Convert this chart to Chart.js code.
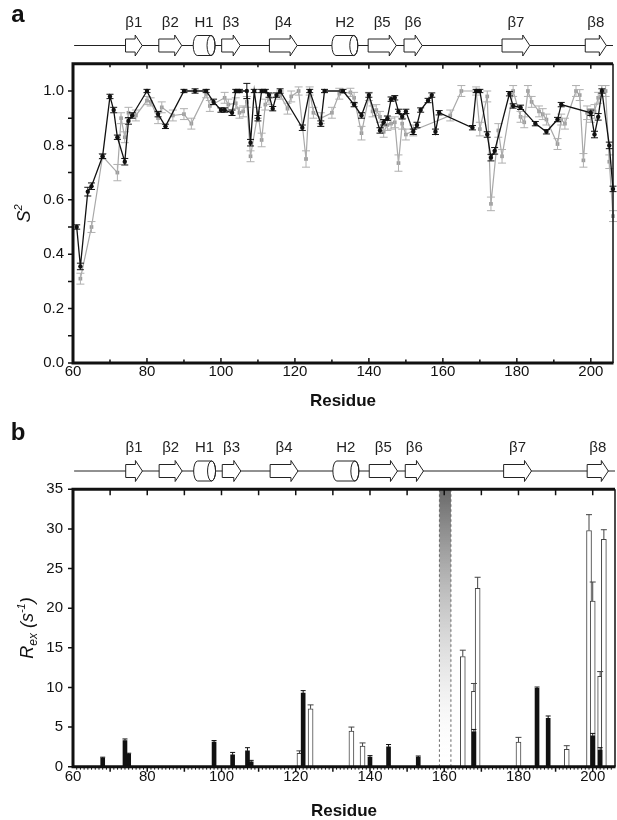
<!DOCTYPE html>
<html>
<head>
<meta charset="utf-8">
<script src="https://cdn.jsdelivr.net/npm/chart.js@4.4.1/dist/chart.umd.min.js"></script>
<style>
html, body { margin: 0; padding: 0; background: #fff; }
#wrap { position: relative; width: 617px; height: 820px; }
canvas { position: absolute; left: 0; }
</style>
</head>
<body>
<div id="wrap">
  <canvas id="chartA" width="617" height="420" style="top:0;width:617px;height:420px"></canvas>
  <canvas id="chartB" width="617" height="400" style="top:420px;width:617px;height:400px"></canvas>
</div>
<script>
// axis ticks
const xTicks = [60, 80, 100, 120, 140, 160, 180, 200];
const s2Ticks = [0, 0.2, 0.4, 0.6, 0.8, 1.0];
const rexTicks = [0, 5, 10, 15, 20, 25, 30, 35];

// secondary structure (residue ranges)
const ssLabels = ['β1', 'β2', 'H1', 'β3', 'β4', 'H2', 'β5', 'β6', 'β7', 'β8'];
const ssTypes = ['strand', 'strand', 'helix', 'strand', 'strand', 'helix', 'strand', 'strand', 'strand', 'strand'];
const ssStart = [74.2, 83.2, 92.5, 100.2, 113.1, 130.0, 139.8, 149.5, 176.0, 198.5];
const ssEnd = [78.7, 89.4, 98.4, 105.2, 120.6, 137.0, 147.4, 154.4, 183.5, 204.2];
const ssSpan = [60.3, 206];

// panel a: S2 order parameters
const blackRes = [61, 62, 64, 65, 68, 70, 71, 72, 74, 75, 76, 80, 83, 85, 90, 93, 96, 98, 100, 101,
  103, 104, 105, 107, 108, 109, 110, 111, 112, 113, 114, 115, 116, 122, 124, 127, 128, 133, 136, 138,
  140, 143, 144, 145, 146, 147, 148, 149, 150, 152, 153, 154, 156, 157, 158, 159, 168, 169, 170, 172,
  173, 174, 178, 179, 181, 185, 188, 191, 192, 200, 201, 202, 203, 205, 206];
const blackS2 = [0.50, 0.355, 0.63, 0.65, 0.76, 0.98, 0.93, 0.83, 0.74, 0.89, 0.91, 1.0, 0.915, 0.87, 1.0, 1.0, 1.0, 0.96, 0.93, 0.93,
  0.92, 1.0, 1.0, 1.0, 0.81, 1.0, 0.90, 1.0, 1.0, 0.985, 0.935, 0.985, 1.0, 0.865, 1.0, 0.88, 1.0, 1.0, 0.95, 0.91,
  0.985, 0.855, 0.885, 0.90, 0.97, 0.975, 0.925, 0.905, 0.925, 0.85, 0.875, 0.93, 0.965, 0.985, 0.85, 0.92, 0.865, 1.0, 1.0, 0.84,
  0.755, 0.78, 0.99, 0.945, 0.94, 0.88, 0.85, 0.895, 0.95, 0.92, 0.84, 0.905, 1.0, 0.80, 0.64];
const blackErr = [0.008, 0.012, 0.016, 0.012, 0.008, 0.008, 0.01, 0.008, 0.012, 0.012, 0.01, 0.006, 0.01, 0.008, 0.006, 0.008, 0.006, 0.01, 0.008, 0.008,
  0.01, 0.006, 0.006, 0.028, 0.012, 0.006, 0.01, 0.006, 0.006, 0.008, 0.008, 0.008, 0.008, 0.01, 0.006, 0.01, 0.006, 0.006, 0.008, 0.01,
  0.008, 0.01, 0.01, 0.008, 0.008, 0.008, 0.008, 0.008, 0.008, 0.01, 0.01, 0.008, 0.008, 0.008, 0.01, 0.008, 0.008, 0.006, 0.006, 0.01,
  0.012, 0.012, 0.008, 0.008, 0.008, 0.008, 0.008, 0.008, 0.008, 0.01, 0.012, 0.012, 0.008, 0.012, 0.01];

const grayRes = [62, 65, 68, 72, 73, 74, 75, 77, 80, 81, 83, 84, 87, 90, 92, 96, 97, 101, 102, 104,
  105, 106, 107, 108, 110, 111, 112, 113, 116, 118, 119, 121, 123, 124, 125, 127, 130, 132, 135, 136,
  138, 140, 141, 142, 143, 144, 145, 146, 147, 148, 149, 150, 152, 162, 165, 169, 170, 172, 173, 175,
  176, 179, 181, 182, 183, 184, 186, 187, 188, 191, 192, 193, 196, 197, 198, 199, 200, 201, 202, 203,
  204, 205, 206];
const grayS2 = [0.31, 0.50, 0.76, 0.70, 0.90, 0.83, 0.92, 0.91, 0.965, 0.96, 0.90, 0.94, 0.91, 0.915, 0.88, 0.99, 0.945, 0.975, 0.95, 0.955,
  0.92, 0.925, 0.96, 0.76, 0.92, 0.82, 0.95, 0.97, 0.985, 0.935, 0.98, 1.0, 0.75, 1.0, 0.92, 0.90, 0.92, 0.99, 0.995, 0.975,
  0.845, 0.98, 0.925, 0.93, 0.905, 0.85, 0.875, 0.88, 0.885, 0.735, 0.88, 0.84, 0.855, 0.91, 1.0, 1.0, 0.86, 0.98, 0.585, 0.855,
  0.76, 1.0, 0.905, 0.885, 1.0, 0.96, 0.925, 0.915, 0.895, 0.805, 0.895, 0.88, 1.0, 0.985, 0.745, 0.92, 0.91, 0.925, 0.975, 1.0,
  1.0, 0.74, 0.54];
const grayErr = [0.02, 0.02, 0.01, 0.03, 0.02, 0.02, 0.02, 0.02, 0.015, 0.015, 0.02, 0.02, 0.02, 0.02, 0.02, 0.015, 0.02, 0.02, 0.02, 0.02,
  0.02, 0.02, 0.02, 0.02, 0.02, 0.025, 0.02, 0.02, 0.015, 0.02, 0.02, 0.015, 0.03, 0.015, 0.02, 0.02, 0.02, 0.02, 0.015, 0.02,
  0.025, 0.015, 0.02, 0.02, 0.02, 0.02, 0.02, 0.02, 0.02, 0.03, 0.02, 0.02, 0.02, 0.02, 0.02, 0.015, 0.025, 0.02, 0.025, 0.025,
  0.025, 0.02, 0.02, 0.02, 0.02, 0.02, 0.02, 0.02, 0.02, 0.02, 0.02, 0.02, 0.02, 0.02, 0.025, 0.025, 0.025, 0.025, 0.02, 0.02,
  0.02, 0.025, 0.02];

// panel b: Rex
const rexBlackRes = [68, 74, 75, 98, 103, 107, 108, 122, 140, 145, 153, 168, 185, 188, 200, 202];
const rexBlack = [1.1, 3.3, 1.6, 3.1, 1.5, 2.0, 0.6, 9.3, 1.2, 2.5, 1.2, 4.4, 9.9, 6.1, 3.9, 2.1];
const rexBlackErr = [0.1, 0.2, 0.1, 0.2, 0.3, 0.4, 0.2, 0.3, 0.2, 0.3, 0.15, 0.3, 0.15, 0.3, 0.3, 0.3];
const rexOpenRes = [121, 124, 135, 138, 165, 168, 169, 180, 193, 199, 200, 202, 203];
const rexOpen = [1.7, 7.3, 4.5, 2.6, 13.9, 9.5, 22.5, 3.1, 2.2, 29.8, 20.9, 11.4, 28.7];
const rexOpenErr = [0.3, 0.5, 0.5, 0.4, 0.8, 1.0, 1.4, 0.6, 0.45, 2.0, 2.4, 0.6, 1.2];
const bandRes = [158.7, 161.8];

const FONT = '"Liberation Sans", Arial, Helvetica, sans-serif';
const pts = (xs, ys) => xs.map((x, i) => ({ x: x, y: ys[i] }));

const errorBars = {
  id: 'errorBars',
  afterDatasetDraw(chart, args) {
    const ds = chart.data.datasets[args.index];
    if (!ds.errors) return;
    const ctx = chart.ctx, y = chart.scales.y;
    const cap = ds.capHalf || 3.5;
    ctx.save();
    ctx.strokeStyle = ds.errColor;
    ctx.lineWidth = 1;
    args.meta.data.forEach((el, i) => {
      const v = ds.data[i].y, e = ds.errors[i];
      const top = y.getPixelForValue(v + e);
      const bot = ds.upOnly ? y.getPixelForValue(v) : y.getPixelForValue(v - e);
      ctx.beginPath();
      ctx.moveTo(el.x, top); ctx.lineTo(el.x, bot);
      ctx.moveTo(el.x - cap, top); ctx.lineTo(el.x + cap, top);
      if (!ds.upOnly) { ctx.moveTo(el.x - cap, bot); ctx.lineTo(el.x + cap, bot); }
      ctx.stroke();
    });
    ctx.restore();
  }
};

function drawSS(chart, lineY, labelY) {
  const ctx = chart.ctx, x = chart.scales.x;
  ctx.save();
  ctx.strokeStyle = '#222';
  ctx.lineWidth = 1;
  ctx.beginPath();
  ctx.moveTo(x.getPixelForValue(ssSpan[0]), lineY);
  ctx.lineTo(x.getPixelForValue(ssSpan[1]), lineY);
  ctx.stroke();
  ssLabels.forEach((lab, i) => {
    const x1 = x.getPixelForValue(ssStart[i]), x2 = x.getPixelForValue(ssEnd[i]);
    ctx.fillStyle = '#fff';
    ctx.beginPath();
    if (ssTypes[i] === 'strand') {
      const h = 6.5, H = 10.5, hd = 7;
      ctx.moveTo(x1, lineY - h);
      ctx.lineTo(x2 - hd, lineY - h);
      ctx.lineTo(x2 - hd, lineY - H);
      ctx.lineTo(x2, lineY);
      ctx.lineTo(x2 - hd, lineY + H);
      ctx.lineTo(x2 - hd, lineY + h);
      ctx.lineTo(x1, lineY + h);
      ctx.closePath();
      ctx.fill(); ctx.stroke();
    } else {
      const r = 4, h = 10;
      ctx.ellipse(x1 + r, lineY, r, h, 0, Math.PI / 2, Math.PI * 1.5);
      ctx.lineTo(x2 - r, lineY - h);
      ctx.ellipse(x2 - r, lineY, r, h, 0, -Math.PI / 2, Math.PI / 2);
      ctx.closePath();
      ctx.fill(); ctx.stroke();
      ctx.beginPath();
      ctx.ellipse(x2 - r, lineY, r, h, 0, 0, Math.PI * 2);
      ctx.stroke();
    }
    ctx.fillStyle = '#222';
    ctx.font = '15px ' + FONT;
    ctx.textAlign = 'center';
    ctx.textBaseline = 'middle';
    ctx.fillText(lab, (x1 + x2) / 2, labelY);
  });
  ctx.restore();
}

function drawFrame(ctx, a) {
  ctx.save();
  ctx.strokeStyle = '#111';
  ctx.lineWidth = 1.5;
  ctx.beginPath();
  ctx.moveTo(a.right, a.top); ctx.lineTo(a.right, a.bottom);
  ctx.stroke();
  ctx.lineWidth = 3;
  ctx.beginPath();
  ctx.moveTo(a.right, a.top); ctx.lineTo(a.left, a.top);
  ctx.lineTo(a.left, a.bottom); ctx.lineTo(a.right + 0.5, a.bottom);
  ctx.stroke();
  ctx.restore();
}

function tick(ctx, x1, y1, x2, y2) {
  ctx.moveTo(x1, y1); ctx.lineTo(x2, y2);
}

function drawRich(ctx, parts, cx, cy) {
  // parts: [text, size, dy]
  let total = 0;
  parts.forEach(p => { ctx.font = 'italic ' + p[1] + 'px ' + FONT; total += ctx.measureText(p[0]).width; });
  let xx = cx - total / 2;
  parts.forEach(p => {
    ctx.font = 'italic ' + p[1] + 'px ' + FONT;
    ctx.fillText(p[0], xx, cy + p[2]);
    xx += ctx.measureText(p[0]).width;
  });
}

function drawLabels(chart, letter, letterY, yTitle, titleX, residueY) {
  const ctx = chart.ctx, a = chart.chartArea;
  ctx.save();
  ctx.fillStyle = '#111';
  ctx.textBaseline = 'middle';
  ctx.textAlign = 'center';
  ctx.font = 'bold 24px ' + FONT;
  ctx.fillText(letter, 18, letterY);
  ctx.font = 'bold 17px ' + FONT;
  ctx.fillText('Residue', (a.left + a.right) / 2, residueY);
  ctx.translate(titleX, (a.top + a.bottom) / 2);
  ctx.rotate(-Math.PI / 2);
  ctx.textAlign = 'left';
  ctx.textBaseline = 'alphabetic';
  drawRich(ctx, yTitle, 0, 6);
  ctx.restore();
}

const panelA = {
  id: 'panelA',
  afterDraw(chart) {
    const ctx = chart.ctx, a = chart.chartArea, x = chart.scales.x, y = chart.scales.y;
    drawFrame(ctx, a);
    ctx.save();
    ctx.strokeStyle = '#111';
    ctx.lineWidth = 1.5;
    ctx.beginPath();
    for (let v = 70; v <= 200; v += 10) {
      const px = x.getPixelForValue(v), len = v % 20 === 0 ? 5 : 3.5;
      tick(ctx, px, a.bottom, px, a.bottom - len);
      tick(ctx, px, a.top, px, a.top + len);
    }
    for (let k = 0; k <= 10; k++) {
      const py = y.getPixelForValue(k / 10);
      tick(ctx, a.left, py, a.left - 5, py);
    }
    ctx.stroke();
    ctx.restore();
    drawSS(chart, a.top - 18.3, a.top - 41);
    drawLabels(chart, 'a', 15, [['S', 18, 0], ['2', 11, -8]], 24, 401);
  }
};

const panelB = {
  id: 'panelB',
  beforeDatasetsDraw(chart) {
    const ctx = chart.ctx, a = chart.chartArea, x = chart.scales.x;
    const x1 = x.getPixelForValue(bandRes[0]), x2 = x.getPixelForValue(bandRes[1]);
    const g = ctx.createLinearGradient(0, a.top, 0, a.bottom);
    g.addColorStop(0, 'rgba(105,105,105,1)');
    g.addColorStop(0.35, 'rgba(170,170,170,0.8)');
    g.addColorStop(0.75, 'rgba(230,230,230,0.5)');
    g.addColorStop(1, 'rgba(255,255,255,0)');
    ctx.save();
    ctx.fillStyle = g;
    ctx.fillRect(x1, a.top, x2 - x1, a.bottom - a.top);
    ctx.strokeStyle = '#666';
    ctx.lineWidth = 1;
    ctx.setLineDash([2.5, 2.5]);
    ctx.beginPath();
    tick(ctx, x1, a.top, x1, a.bottom);
    tick(ctx, x2, a.top, x2, a.bottom);
    ctx.stroke();
    ctx.restore();
  },
  afterDraw(chart) {
    const ctx = chart.ctx, a = chart.chartArea, x = chart.scales.x, y = chart.scales.y;
    drawFrame(ctx, a);
    ctx.save();
    ctx.strokeStyle = '#111';
    ctx.lineWidth = 1;
    ctx.beginPath();
    for (let v = 61; v <= 205; v++) {
      if (v % 10 === 0) continue;
      const px = x.getPixelForValue(v);
      tick(ctx, px, a.bottom, px, a.bottom + 3);
    }
    ctx.stroke();
    ctx.lineWidth = 1.5;
    ctx.beginPath();
    for (let v = 70; v <= 200; v += 10) {
      const px = x.getPixelForValue(v);
      tick(ctx, px, a.bottom, px, a.bottom + 5);
      tick(ctx, px, a.top, px, a.top + 6);
    }
    for (let v = 0; v <= 35; v += 5) {
      const py = y.getPixelForValue(v);
      tick(ctx, a.left, py, a.left - 5, py);
    }
    ctx.stroke();
    ctx.restore();
    drawSS(chart, a.top - 18.3, a.top - 41);
    drawLabels(chart, 'b', 13, [['R', 18, 0], ['ex', 12, 4], [' (s', 18, 0], ['-1', 11, -8], [')', 18, 0]], 27, 391.7);
  }
};

const tickFont = { family: FONT, size: 15 };

new Chart(document.getElementById('chartA'), {
  type: 'line',
  data: {
    datasets: [
      {
        data: pts(blackRes, blackS2), errors: blackErr, errColor: '#111', capHalf: 3.5,
        borderColor: '#111', backgroundColor: '#111', borderWidth: 1.3,
        pointRadius: 2.2, pointStyle: 'circle', pointBorderWidth: 0, tension: 0, clip: false
      },
      {
        data: pts(grayRes, grayS2), errors: grayErr, errColor: '#b0b0b0', capHalf: 4,
        borderColor: '#a8a8a8', backgroundColor: '#9c9c9c', borderWidth: 1.2,
        pointRadius: 2.6, pointStyle: 'rect', pointBorderWidth: 0, tension: 0, clip: false
      }
    ]
  },
  options: {
    responsive: false,
    animation: false,
    layout: { padding: { top: 63.8, right: 2, left: 0, bottom: 0 } },
    plugins: { legend: { display: false }, tooltip: { enabled: false } },
    scales: {
      x: {
        type: 'linear', min: 60, max: 206,
        grid: { display: false, drawTicks: false }, border: { display: false },
        ticks: { font: tickFont, color: '#111', padding: 0, maxRotation: 0, autoSkip: false },
        afterBuildTicks: s => { s.ticks = xTicks.map(v => ({ value: v })); },
        afterFit: s => { s.height = 57; }
      },
      y: {
        min: 0, max: 1.1,
        grid: { display: false, drawTicks: false }, border: { display: false },
        ticks: { font: tickFont, color: '#111', padding: 9, callback: v => v.toFixed(1) },
        afterBuildTicks: s => { s.ticks = s2Ticks.map(v => ({ value: v })); },
        afterFit: s => { s.width = 73; }
      }
    }
  },
  plugins: [errorBars, panelA]
});

new Chart(document.getElementById('chartB'), {
  type: 'bar',
  data: {
    datasets: [
      {
        data: pts(rexBlackRes, rexBlack), errors: rexBlackErr, errColor: '#111', capHalf: 2.5, upOnly: true,
        backgroundColor: '#111', borderWidth: 0, barThickness: 4, grouped: false
      },
      {
        data: pts(rexOpenRes, rexOpen), errors: rexOpenErr, errColor: '#444', capHalf: 3, upOnly: true,
        backgroundColor: '#fff', borderColor: '#444', borderWidth: 1, barThickness: 5, grouped: false
      }
    ]
  },
  options: {
    responsive: false,
    animation: false,
    layout: { padding: { top: 69.3, right: 2, left: 0, bottom: 0 } },
    plugins: { legend: { display: false }, tooltip: { enabled: false } },
    scales: {
      x: {
        type: 'linear', min: 60, max: 206, offset: false,
        grid: { display: false, drawTicks: false }, border: { display: false },
        ticks: { font: tickFont, color: '#111', padding: 1, maxRotation: 0, autoSkip: false },
        afterBuildTicks: s => { s.ticks = xTicks.map(v => ({ value: v })); },
        afterFit: s => { s.height = 53.3; }
      },
      y: {
        min: 0, max: 35,
        grid: { display: false, drawTicks: false }, border: { display: false },
        ticks: { font: tickFont, color: '#111', padding: 10 },
        afterBuildTicks: s => { s.ticks = rexTicks.map(v => ({ value: v })); },
        afterFit: s => { s.width = 73; }
      }
    }
  },
  plugins: [errorBars, panelB]
});
</script>
</body>
</html>
